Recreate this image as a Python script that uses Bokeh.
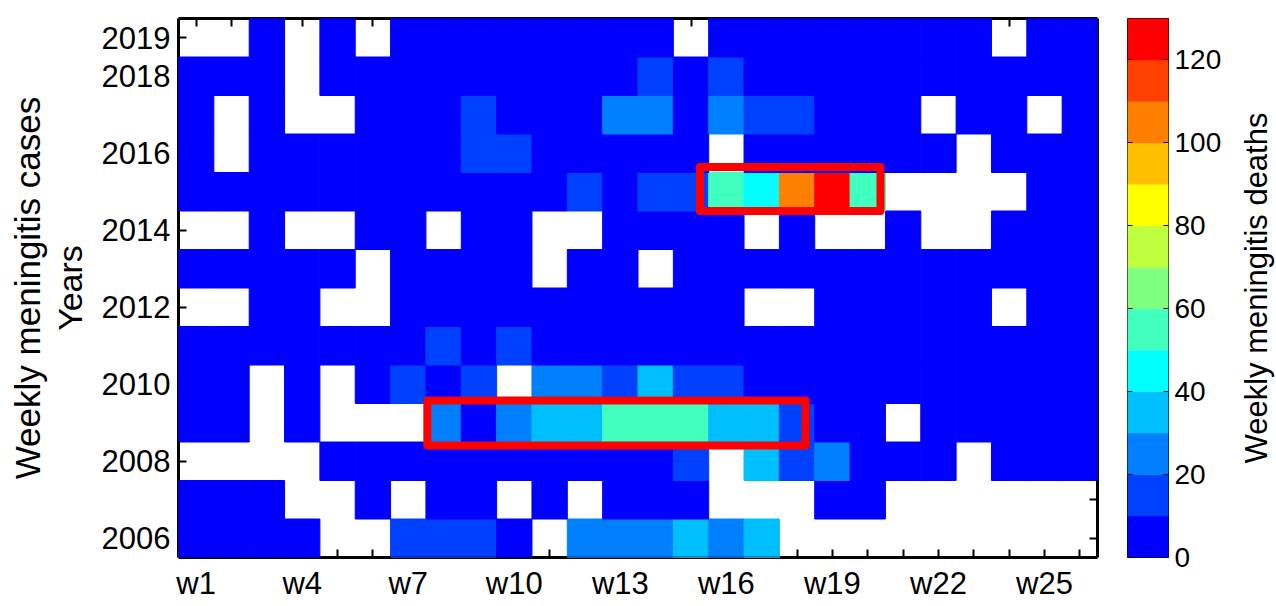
import math
from bokeh.plotting import figure
from bokeh.layouts import row
from bokeh.models import (ColumnDataSource, LinearColorMapper, FixedTicker,
                          LinearAxis, Range1d, Title, BoxAnnotation)
from bokeh.core.properties import value
from bokeh.transform import transform
from bokeh.embed import file_html
from bokeh.resources import INLINE

N = None  # no data (white cell)

weeks = list(range(1, 27))
week_labels = ["w1", "w4", "w7", "w10", "w13", "w16", "w19", "w22", "w25"]
years = list(range(2006, 2020))
year_labels = ["2006", "2008", "2010", "2012", "2014", "2016", "2018", "2019"]

# weekly meningitis deaths, weeks w1..w26 (estimated from colour bins)
deaths_2019 = [N, N, 5, N, 5, N, 5, 5, 5, 5, 5, 5, 5, 5, N, 5, 5, 5, 5, 5, 5, 5, 5, N, 5, 5]
deaths_2018 = [5, 5, 5, N, 5, 5, 5, 5, 5, 5, 5, 5, 5, 15, 5, 15, 5, 5, 5, 5, 5, 5, 5, 5, 5, 5]
deaths_2017 = [5, N, 5, N, N, 5, 5, 5, 15, 5, 5, 5, 25, 25, 5, 25, 15, 15, 5, 5, 5, N, 5, 5, N, 5]
deaths_2016 = [5, N, 5, 5, 5, 5, 5, 5, 15, 15, 5, 5, 5, 5, 5, N, 5, 5, 5, 5, 5, 5, N, 5, 5, 5]
deaths_2015 = [5, 5, 5, 5, 5, 5, 5, 5, 5, 5, 5, 15, 5, 15, 15, 55, 45, 105, 125, 55, N, N, N, N, 5, 5]
deaths_2014 = [N, N, 5, N, N, 5, 5, N, 5, 5, N, N, 5, 5, 5, 5, N, 5, N, N, 5, N, N, 5, 5, 5]
deaths_2013 = [5, 5, 5, 5, 5, N, 5, 5, 5, 5, N, 5, 5, N, 5, 5, 5, 5, 5, 5, 5, 5, 5, 5, 5, 5]
deaths_2012 = [N, N, 5, 5, N, N, 5, 5, 5, 5, 5, 5, 5, 5, 5, 5, N, N, 5, 5, 5, 5, 5, N, 5, 5]
deaths_2011 = [5, 5, 5, 5, 5, 5, 5, 15, 5, 15, 5, 5, 5, 5, 5, 5, 5, 5, 5, 5, 5, 5, 5, 5, 5, 5]
deaths_2010 = [5, 5, N, 5, N, 5, 15, 5, 15, N, 25, 25, 15, 35, 15, 15, 5, 5, 5, 5, 5, 5, 5, 5, 5, 5]
deaths_2009 = [5, 5, N, 5, N, N, N, 25, 5, 25, 35, 35, 55, 55, 55, 35, 35, 15, 5, 5, N, 5, 5, 5, 5, 5]
deaths_2008 = [N, N, N, N, 5, 5, 5, 5, 5, 5, 5, 5, 5, 5, 15, N, 35, 15, 25, 5, 5, 5, N, 5, 5, 5]
deaths_2007 = [5, 5, 5, N, N, 5, N, 5, 5, N, 5, N, 5, 5, 5, N, N, N, 5, 5, N, N, N, N, N, N]
deaths_2006 = [5, 5, 5, 5, N, N, 15, 15, 15, 5, N, 25, 25, 25, 35, 25, 35, N, N, N, N, N, N, N, N, N]

series = {
    2006: deaths_2006, 2007: deaths_2007, 2008: deaths_2008, 2009: deaths_2009,
    2010: deaths_2010, 2011: deaths_2011, 2012: deaths_2012, 2013: deaths_2013,
    2014: deaths_2014, 2015: deaths_2015, 2016: deaths_2016, 2017: deaths_2017,
    2018: deaths_2018, 2019: deaths_2019,
}

palette = ["#0000FF", "#0040FF", "#0080FF", "#00BFFF", "#00FFFF", "#40FFBF", "#80FF80",
           "#BFFF40", "#FFFF00", "#FFBF00", "#FF8000", "#FF4000", "#FF0000"]
cbar_low, cbar_high = 0, 130
cbar_ticks = [0, 20, 40, 60, 80, 100, 120]
cbar_title = "Weekly meningitis deaths"

# highlighted regions (hand-drawn red frames): week range and year range
box_week_from = [15.25, 7.54]
box_week_to = [20.36, 18.24]
box_year_from = [2014.5, 2008.41]
box_year_to = [2015.64, 2009.58]

# ---------------- geometry (pixels) ----------------
H = 606
TOP, BOTTOM = 18, 49
LEFT, FRAME_W, MAIN_RIGHT = 178, 919, 13
MAIN_W = LEFT + FRAME_W + MAIN_RIGHT
CB_GAP, CB_BAR_W, CB_LABEL_W = 17, 41, 62
CB_FIG_W = CB_GAP + CB_BAR_W + CB_LABEL_W
TITLE_W = 1276 - MAIN_W - CB_FIG_W
FONT = "Liberation Sans"

xs, ys, vals = [], [], []
for yr in years:
    for wk, v in zip(weeks, series[yr]):
        if v is not None:
            xs.append(wk)
            ys.append(yr)
            vals.append(v)
src = ColumnDataSource(dict(week=xs, year=ys, value=vals))

x0, x1 = weeks[0] - 0.5, weeks[-1] + 0.5
y0, y1 = years[0] - 0.5, years[-1] + 0.5

p = figure(width=MAIN_W, height=H, x_range=Range1d(x0, x1),
           y_range=Range1d(y0, y1), output_backend="svg", toolbar_location=None, title=None,
           min_border_left=LEFT, min_border_right=MAIN_RIGHT, min_border_top=TOP,
           min_border_bottom=BOTTOM, background_fill_color="white", border_fill_color="white")
p.outline_line_color = None
p.grid.visible = False

cmap = LinearColorMapper(palette=palette, low=cbar_low, high=cbar_high)
p.rect(x="week", y="year", width=1, height=1, source=src,
       fill_color=transform("value", cmap), line_color=transform("value", cmap),
       line_width=1, level="annotation")

# labelled ticks are major ticks, the others are (equally long) minor ticks
week_major = [w for w in weeks if f"w{w}" in week_labels]
week_minor = [w for w in weeks if w not in week_major]
year_major = [y for y in years if str(y) in year_labels]
year_minor = [y for y in years if y not in year_major]


def style_axis(ax, major, minor, tick_len=8, tick_w=2, font_size="31px", standoff=8,
               axis_line=True):
    ax.ticker = FixedTicker(ticks=major, minor_ticks=minor)
    for kind in ("major", "minor"):
        setattr(ax, f"{kind}_tick_in", tick_len)
        setattr(ax, f"{kind}_tick_out", 0)
        setattr(ax, f"{kind}_tick_line_color", "black")
        setattr(ax, f"{kind}_tick_line_width", tick_w)
    ax.axis_line_color = "black" if axis_line else None
    ax.axis_line_width = 3
    ax.major_label_text_font = FONT
    ax.major_label_text_color = "black"
    ax.major_label_text_font_size = font_size
    ax.major_label_standoff = standoff


style_axis(p.xaxis[0], week_major, week_minor)
p.xaxis[0].major_label_overrides = {w: f"w{w}" for w in week_major}
style_axis(p.yaxis[0], year_major, year_minor)
top_ax = LinearAxis()
right_ax = LinearAxis()
style_axis(top_ax, [], weeks, standoff=0)
style_axis(right_ax, [], years, standoff=0)
p.add_layout(top_ax, "above")
p.add_layout(right_ax, "right")

p.yaxis[0].axis_label = "Years"
p.yaxis[0].axis_label_text_font = FONT
p.yaxis[0].axis_label_text_font_size = "34px"
p.yaxis[0].axis_label_text_font_style = "normal"
p.yaxis[0].axis_label_text_color = "black"
p.yaxis[0].axis_label_standoff = 10

p.add_layout(Title(text="Weekly meningitis cases", align="center", text_font=FONT,
                   text_font_size="35px", text_font_style="normal", text_color="black",
                   standoff=2), "left")

# frame border over the cells
p.add_layout(BoxAnnotation(left=x0, right=x1, bottom=y0, top=y1, fill_alpha=0,
                           line_color="black", line_width=3, level="overlay"))

# highlight frames
p.quad(left=box_week_from, right=box_week_to, bottom=box_year_from, top=box_year_to,
       fill_color=None, line_color="#FF0000", line_width=8, line_join="round", level="overlay")

# ---------------- colour bar ----------------
cb = figure(width=CB_FIG_W, height=H, x_range=Range1d(0, 1), y_range=Range1d(cbar_low, cbar_high),
            output_backend="svg", toolbar_location=None, title=None,
            x_axis_type=None, y_axis_type=None,
            min_border_left=CB_GAP, min_border_right=CB_LABEL_W, min_border_top=TOP,
            min_border_bottom=BOTTOM, background_fill_color="white", border_fill_color="white")
cb.outline_line_color = "black"
cb.outline_line_width = 1
cb.grid.visible = False

step = (cbar_high - cbar_low) / len(palette)
band_lo = [cbar_low + i * step for i in range(len(palette))]
band_hi = [cbar_low + (i + 1) * step for i in range(len(palette))]
cb.quad(left=0, right=1, bottom=band_lo, top=band_hi,
        fill_color=palette, line_color=palette, line_width=0.5)

cb_right = LinearAxis()
style_axis(cb_right, cbar_ticks, [], tick_len=5, tick_w=1, font_size="28px", standoff=6,
           axis_line=False)
cb_left = LinearAxis()
style_axis(cb_left, [], cbar_ticks, tick_len=5, tick_w=1, standoff=0, axis_line=False)
cb.add_layout(cb_right, "right")
cb.add_layout(cb_left, "left")

# ---------------- colour bar title ----------------
tf = figure(width=TITLE_W, height=H, x_range=Range1d(0, TITLE_W), y_range=Range1d(cbar_low, cbar_high),
            output_backend="svg", toolbar_location=None, title=None,
            x_axis_type=None, y_axis_type=None,
            min_border_left=0, min_border_right=0, min_border_top=TOP,
            min_border_bottom=BOTTOM, background_fill_color="white", border_fill_color="white")
tf.outline_line_color = None
tf.grid.visible = False
tf.text(x=[TITLE_W * 0.57], y=[(cbar_low + cbar_high) / 2], text=[cbar_title], angle=math.pi / 2,
        text_font=value(FONT), text_font_size="31px", text_color="black",
        text_align="center", text_baseline="middle")

layout = row(p, cb, tf, spacing=0)
open("out.html", "w").write(file_html(layout, INLINE))
